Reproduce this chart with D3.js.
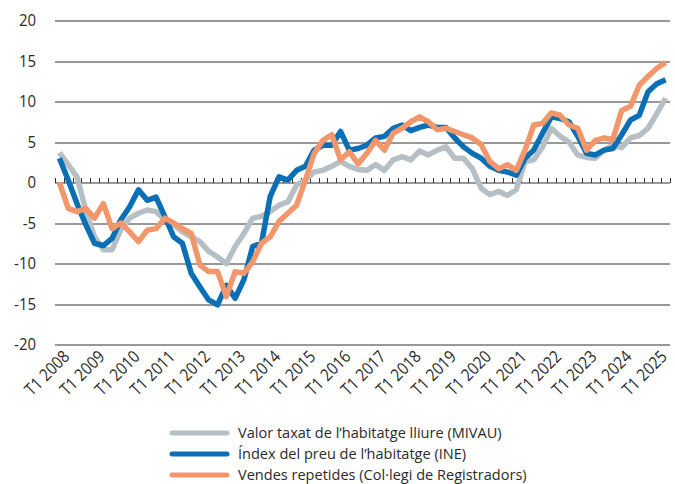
<!DOCTYPE html>
<html>
<head>
<meta charset="utf-8">
<script src="https://cdn.jsdelivr.net/npm/d3@7"></script>
<style>
  body { margin: 0; background: #fff; }
  svg text { font-family: "Open Sans", sans-serif; font-weight: 400; fill: #2a2a2a; }
</style>
</head>
<body>
<script>
// quarters T1 2008 .. T2 2025
var years = [2008, 2009, 2010, 2011, 2012, 2013, 2014, 2015, 2016, 2017, 2018, 2019, 2020, 2021, 2022, 2023, 2024, 2025];
var quarterNames = ["T1", "T2", "T3", "T4"];
var quarters = [];
years.forEach(function(y) {
	quarterNames.forEach(function(q) {
		if (y == 2025 && (q == "T3" || q == "T4")) return;
		quarters.push(q + " " + y);
	});
});

var yTicks = [-20, -15, -10, -5, 0, 5, 10, 15, 20];

var mivau = [3.7, 2.2, 0.7, -3.4, -6.7, -8.3, -8.3, -5.8, -4.4, -3.8, -3.4, -3.6, -4.6, -5.2, -6.1, -6.7, -7.3, -8.5,
	-9.2, -10.0, -7.9, -6.3, -4.4, -4.2, -3.6, -2.8, -2.4, -0.3, 0.3, 1.3, 1.5, 2.0, 2.6, 2.0, 1.6,
	1.5, 2.2, 1.5, 2.8, 3.2, 2.8, 3.9, 3.4, 4.0, 4.4, 3.0, 3.0, 1.7, -0.7, -1.5, -1.1, -1.6,
	-0.9, 2.6, 2.8, 4.4, 6.7, 5.7, 5.0, 3.4, 3.1, 3.0, 4.0, 4.6, 4.3, 5.5, 5.8, 6.7, 8.5, 10.4];

var ine = [3.0, 0.3, -2.6, -5.2, -7.5, -7.8, -6.9, -4.6, -3.0, -0.9, -2.2, -1.8, -4.2, -6.7, -7.5, -11.2, -12.9, -14.5,
	-15.1, -12.7, -14.3, -12.0, -7.9, -7.5, -1.7, 0.7, 0.3, 1.5, 2.0, 4.0, 4.6, 4.6, 6.3, 4.0, 4.2,
	4.6, 5.5, 5.7, 6.7, 7.1, 6.4, 6.8, 7.1, 6.8, 6.8, 5.5, 4.4, 3.6, 3.0, 2.0, 1.5, 1.3,
	0.9, 3.0, 4.0, 6.1, 8.1, 7.9, 7.5, 5.7, 3.6, 3.4, 4.0, 4.2, 5.9, 7.7, 8.3, 11.2, 12.2, 12.7];

var registradors = [0.0, -3.2, -3.6, -3.2, -4.4, -2.6, -5.7, -5.0, -6.1, -7.3, -5.9, -5.7, -4.4, -5.0, -5.7, -6.3, -10.2, -11.0,
	-11.0, -14.1, -11.0, -11.2, -9.8, -7.5, -6.7, -4.8, -3.8, -2.8, 0.3, 3.6, 5.2, 5.9, 2.8, 3.8, 2.3,
	3.6, 5.2, 4.0, 6.1, 6.7, 7.5, 8.1, 7.5, 6.5, 6.7, 6.3, 5.9, 5.5, 4.7, 2.6, 1.7, 2.2,
	1.5, 4.0, 7.1, 7.3, 8.6, 8.3, 7.1, 6.7, 4.0, 5.2, 5.5, 5.3, 8.9, 9.4, 12.0, 13.1, 14.1, 14.8];

var series = [
	{ name: "Valor taxat de l\u2019habitatge lliure (MIVAU)", values: mivau, color: "#b6bfc3" },
	{ name: "\u00cdndex del preu de l\u2019habitatge (INE)", values: ine, color: "#0a6fb4" },
	{ name: "Vendes repetides (Col\u00b7legi de Registradors)", values: registradors, color: "#f2976b" }
];

// narrow the text a bit, the original font is a condensed one
var squeeze = 0.88;
var legendSqueeze = 0.97;

var svg_width = 675, svg_height = 484;
var svg = d3.select("body").append("svg").attr("width", svg_width).attr("height", svg_height);
var margin = { top: 20.5, right: 5, bottom: 139.5, left: 55 };
var width = 670 - margin.left, height = 344.5 - margin.top;

var g = svg.append("g").attr("transform", "translate(" + margin.left + "," + margin.top + ")");

var x = d3.scaleBand().domain(quarters).range([0, width]).paddingInner(0).paddingOuter(0);
var y = d3.scaleLinear().domain([-20, 20]).range([height, 0]);

// horizontal grid
g.append("g")
	.selectAll("line")
	.data(yTicks)
	.enter().append("line")
	.attr("x1", 0)
	.attr("x2", width)
	.attr("y1", function(d) { return Math.round(y(d)) + 0.5; })
	.attr("y2", function(d) { return Math.round(y(d)) + 0.5; })
	.attr("stroke", "#333")
	.attr("stroke-width", 1);

// y labels
g.append("g")
	.selectAll("text")
	.data(yTicks)
	.enter().append("text")
	.attr("transform", function(d) { return "translate(-19," + y(d) + ") scale(" + squeeze + ",1)"; })
	.attr("dy", "0.35em")
	.attr("text-anchor", "end")
	.style("font-size", "17px")
	.text(function(d) { return d; });

// small ticks on zero line at quarter boundaries
var bounds = quarters.map(function(q) { return x(q); });
bounds.push(width);
g.append("g")
	.selectAll("line")
	.data(bounds)
	.enter().append("line")
	.attr("x1", function(d) { return Math.round(d) + 0.5; })
	.attr("x2", function(d) { return Math.round(d) + 0.5; })
	.attr("y1", Math.round(y(0)) + 0.5)
	.attr("y2", Math.round(y(0)) - 4.5)
	.attr("stroke", "#333")
	.attr("stroke-width", 1);

// x labels (T1 only)
g.append("g")
	.selectAll("text")
	.data(quarters.filter(function(q) { return q.indexOf("T1") == 0; }))
	.enter().append("text")
	.attr("transform", function(d) {
		return "translate(" + (x(d) + x.bandwidth() / 2 + 7) + "," + (height + 9) + ") rotate(-45) scale(" + squeeze + ",1)";
	})
	.attr("text-anchor", "end")
	.attr("dy", "0.35em")
	.style("font-size", "17px")
	.text(function(d) { return d; });

var line = d3.line()
	.x(function(d, i) { return x(quarters[i]) + x.bandwidth() / 2; })
	.y(function(d) { return y(d); });

g.selectAll(".serie")
	.data(series)
	.enter().append("path")
	.attr("class", "serie")
	.attr("d", function(d) { return line(d.values); })
	.attr("fill", "none")
	.attr("stroke", function(d) { return d.color; })
	.attr("stroke-width", 5.5)
	.attr("stroke-linejoin", "round");

// legend
var legend = svg.append("g").attr("transform", "translate(172,433)");
var item = legend.selectAll("g")
	.data(series)
	.enter().append("g")
	.attr("transform", function(d, i) { return "translate(0," + (i * 21) + ")"; });

item.append("line")
	.attr("x1", 0)
	.attr("x2", 55)
	.attr("stroke", function(d) { return d.color; })
	.attr("stroke-width", 5)
	.attr("stroke-linecap", "round");

item.append("text")
	.attr("transform", "translate(66,0) scale(" + legendSqueeze + ",1)")
	.attr("dy", "0.35em")
	.style("font-size", "15px")
	.text(function(d) { return d.name; });
</script>
</body>
</html>
